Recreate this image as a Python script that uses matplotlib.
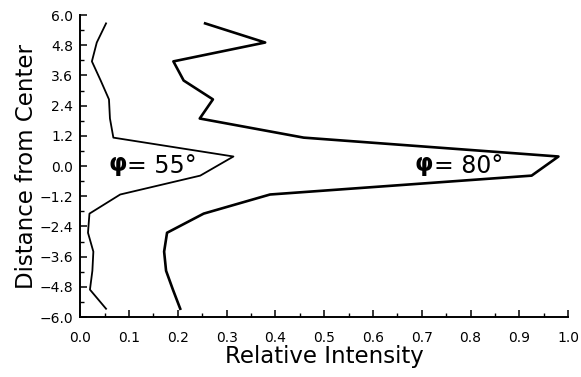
import numpy as np
import matplotlib
matplotlib.use("Agg")
import matplotlib.pyplot as plt
from matplotlib.ticker import MultipleLocator, FuncFormatter

# distance from center (sample positions)
distance = [5.67, 4.91, 4.16, 3.40, 2.65, 1.89, 1.13, 0.38,
            -0.38, -1.13, -1.89, -2.65, -3.40, -4.16, -4.91, -5.67]
# relative intensity at phi = 55 deg
intensity_55 = [0.053, 0.034, 0.024, 0.042, 0.059, 0.061, 0.068, 0.314,
                0.246, 0.082, 0.019, 0.016, 0.027, 0.025, 0.020, 0.053]
# relative intensity at phi = 80 deg
intensity_80 = [0.256, 0.379, 0.191, 0.212, 0.272, 0.245, 0.458, 0.980,
                0.925, 0.389, 0.253, 0.178, 0.172, 0.176, 0.190, 0.205]

plt.rcParams["font.family"] = ["DejaVu Sans"]

fig = plt.figure(figsize=(5.81, 3.77), dpi=100)
ax = fig.add_axes([0.138, 0.159, 0.840, 0.801])

ax.plot(intensity_55, distance, color="black", lw=1.3)
ax.plot(intensity_80, distance, color="black", lw=1.9)

ax.set_xlim(0.0, 1.0)
ax.set_ylim(-6.0, 6.0)
ax.xaxis.set_major_locator(MultipleLocator(0.1))
ax.xaxis.set_minor_locator(MultipleLocator(0.05))
ax.yaxis.set_major_locator(MultipleLocator(1.2))
ax.yaxis.set_minor_locator(MultipleLocator(0.6))
ax.xaxis.set_major_formatter(FuncFormatter(lambda v, p: f"{abs(v):.1f}"))


def yfmt(v, p):
    if abs(v) < 1e-9:
        return "0.0"
    return f"{v:.1f}".replace("-", "\u2212")


ax.yaxis.set_major_formatter(FuncFormatter(yfmt))

for s in ("top", "right"):
    ax.spines[s].set_visible(False)
for s in ("left", "bottom"):
    ax.spines[s].set_linewidth(1.4)
ax.tick_params(which="major", direction="in", length=5, width=1.1,
               labelsize=10)
ax.tick_params(axis="x", which="major", pad=10)
ax.tick_params(axis="y", which="major", pad=5)
ax.tick_params(which="minor", direction="in", length=3, width=1.0)

ax.set_xlabel("Relative Intensity", fontsize=16.5, labelpad=0)
ax.set_ylabel("Distance from Center", fontsize=16.5, labelpad=1)

ax.text(0.056, 0.0, r"$\mathbf{\varphi}$", fontsize=17,
        va="center", ha="left")
ax.text(0.096, 0.0, "= 55°", fontsize=17, va="center", ha="left")
ax.text(0.685, 0.0, r"$\mathbf{\varphi}$", fontsize=17,
        va="center", ha="left")
ax.text(0.725, 0.0, "= 80°", fontsize=17, va="center", ha="left")

fig.savefig("out.png", dpi=100)
